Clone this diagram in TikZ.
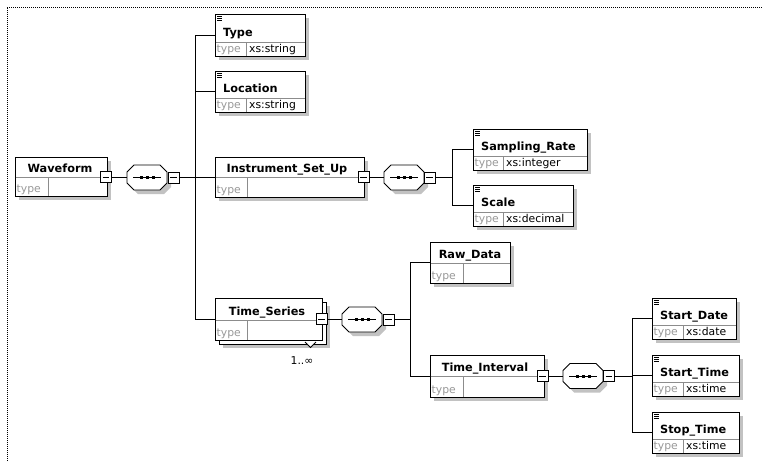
\documentclass[tikz,border=0pt]{standalone}
\usepackage{fontspec}
\newfontfamily\dvs{DejaVu Sans}
\tikzset{
  elbox/.style={draw=black, fill=white, line width=0.9pt, inner sep=0pt, rectangle},
  shadowc/.style={fill=black!24},
  ttl/.style={font=\dvs\bfseries\fontsize{11.3}{12}\selectfont, inner sep=0pt},
  typet/.style={font=\dvs\fontsize{10.8}{11}\selectfont, text=black!40, inner sep=0pt},
  valt/.style={font=\dvs\fontsize{10.8}{11}\selectfont, text=black, inner sep=0pt},
  divl/.style={draw=black!45, line width=0.9pt},
  conn/.style={draw=black, line width=0.9pt},
  pmsq/.style={draw=black, fill=white, line width=0.9pt, minimum size=11pt, inner sep=0pt, rectangle},
  dotborder/.style={draw=black, line width=1pt, dash pattern=on 1pt off 1pt},
}
\newcommand\shad[4]{\fill[shadowc] (#1+4,#2+4) rectangle (#3+4,#4+4);}
\newcommand\mkbox[7]{%
  \node[elbox, minimum width={(#4-#2)*1pt}, minimum height={(#5-#3)*1pt}] (#1) at ({(#2+#4)/2},{(#3+#5)/2}) {};
  \draw[divl] (#2+0.5,#6) -- (#4-0.5,#6);
  \draw[divl] (#7,#6) -- (#7,#5-0.5);
  \node[typet, anchor=base west] at (#2+1.5,#5-4) {type};
}
\newcommand\stitle[4]{%
  \draw[line width=0.5pt] (#1+2,#2+2) -- +(5,0) (#1+2,#2+4) -- +(5,0) (#1+2,#2+6) -- +(5,0);
  \node[ttl, anchor=base west] at (#1+8,#3-6) {#4};
}
\newcommand\ctitle[3]{\node[ttl, anchor=base] at (#1,#2-5) {#3};}
\newcommand\xval[3]{\node[valt, anchor=base west] at (#1+3,#2-4) {#3};}
\newcommand\octo[3]{%
  \begin{scope}[shift={(#2+4,#3+4)}]
    \fill[shadowc] (-13,-12.5) -- (13,-12.5) -- (20,-5.5) -- (20,5.5) -- (13,12.5) -- (-13,12.5) -- (-20,5.5) -- (-20,-5.5) -- cycle;
  \end{scope}
  \node[inner sep=0pt, minimum width=40pt, minimum height=25pt] (#1) at (#2,#3) {};
  \begin{scope}[shift={(#2,#3)}]
    \filldraw[conn, fill=white] (-13,-12.5) -- (13,-12.5) -- (20,-5.5) -- (20,5.5) -- (13,12.5) -- (-13,12.5) -- (-20,5.5) -- (-20,-5.5) -- cycle;
    \draw[conn] (-14,0) -- (14,0);
    \fill (-7.5,-1.5) rectangle (-4.5,1.5);
    \fill (-1.5,-1.5) rectangle (1.5,1.5);
    \fill (4.5,-1.5) rectangle (7.5,1.5);
  \end{scope}
}
\newcommand\pmb[3]{%
  \node[pmsq] (#1) at (#2,#3) {};
  \draw[conn] ([xshift=2.5pt]#1.west) -- ([xshift=-2.5pt]#1.east);
}
\begin{document}
\begin{tikzpicture}[x=1pt,y=-1pt]
\useasboundingbox (0,0) rectangle (763,461);
\draw[dotborder] (7,461) -- (7,7) -- (763,7);

% junction columns
\coordinate (j1) at (195,0);
\coordinate (j2) at (452,0);
\coordinate (j3) at (410,0);
\coordinate (j4) at (632,0);

% Waveform
\shad{15}{157}{107}{196}
\mkbox{nWF}{15}{157}{107}{196}{177}{48}
\ctitle{60}{177}{Waveform}
\pmb{m1}{106}{177}
\octo{s1}{147}{177.5}
\pmb{p1}{173.5}{177.5}

% Type
\shad{215}{14}{305}{56}
\mkbox{nType}{215}{14}{305}{56}{42}{246}
\stitle{215}{14}{42}{Type}
\xval{246}{56}{xs:string}

% Location
\shad{215}{71}{305}{112}
\mkbox{nLoc}{215}{71}{305}{112}{98}{246}
\stitle{215}{71}{98}{Location}
\xval{246}{112}{xs:string}

% Instrument_Set_Up
\shad{215}{157}{364}{197}
\mkbox{nISU}{215}{157}{364}{197}{177}{247}
\ctitle{287}{177}{Instrument\_Set\_Up}
\pmb{m2}{363.5}{177}
\octo{s2}{404}{177.5}
\pmb{p2}{429.5}{177.5}

% Sampling_Rate
\shad{473}{129}{587}{170}
\mkbox{nSR}{473}{129}{587}{170}{156}{503}
\stitle{473}{129}{156}{Sampling\_Rate}
\xval{503}{170}{xs:integer}

% Scale
\shad{473}{185}{573}{226}
\mkbox{nSc}{473}{185}{573}{226}{212}{503}
\stitle{473}{185}{212}{Scale}
\xval{503}{226}{xs:decimal}

% Time_Series (stacked)
\shad{219}{302}{326}{344}
\node[elbox, minimum width=107pt, minimum height=42pt] (nTSb) at (272.5,323) {};
\mkbox{nTS}{215}{298}{322}{340}{320}{247}
\ctitle{267}{320}{Time\_Series}
\filldraw[conn, fill=white] (305,342) -- (310.5,347.5) -- (316,342);
\node[valt, anchor=base] (card) at (302,364) {1..∞};
\pmb{m3}{321.5}{319}
\octo{s3}{362}{319.5}
\pmb{p3}{388.5}{319.5}

% Raw_Data
\shad{430}{242}{510}{283}
\mkbox{nRD}{430}{242}{510}{283}{263}{463}
\ctitle{470}{263}{Raw\_Data}

% Time_Interval
\shad{430}{355}{544}{397}
\mkbox{nTI}{430}{355}{544}{397}{376}{463}
\ctitle{485}{376}{Time\_Interval}
\pmb{m4}{542.5}{376}
\octo{s4}{583}{376}
\pmb{p4}{609}{376}

% Start_Date
\shad{652}{298}{736}{339}
\mkbox{nSD}{652}{298}{736}{339}{325}{683}
\stitle{652}{298}{325}{Start\_Date}
\xval{683}{339}{xs:date}

% Start_Time
\shad{652}{355}{739}{396}
\mkbox{nST}{652}{355}{739}{396}{382}{683}
\stitle{652}{355}{382}{Start\_Time}
\xval{683}{396}{xs:time}

% Stop_Time
\shad{652}{412}{739}{453}
\mkbox{nSpT}{652}{412}{739}{453}{439}{683}
\stitle{652}{412}{439}{Stop\_Time}
\xval{683}{453}{xs:time}

% connectors
\draw[conn] (m1.east) -- (m1.east -| s1.west);
\draw[conn] (p1.east) -- (p1.east -| j1);
\draw[conn] (j1 |- nType.west) -- (j1 |- nTS.west);
\foreach \n in {nType,nLoc,nISU,nTS} \draw[conn] (j1 |- \n.west) -- (\n.west);

\draw[conn] (m2.east) -- (m2.east -| s2.west);
\draw[conn] (p2.east) -- (p2.east -| j2);
\draw[conn] (j2 |- nSR.west) -- (j2 |- nSc.west);
\foreach \n in {nSR,nSc} \draw[conn] (j2 |- \n.west) -- (\n.west);

\draw[conn] (m3.east) -- (m3.east -| s3.west);
\draw[conn] (p3.east) -- (p3.east -| j3);
\draw[conn] (j3 |- nRD.west) -- (j3 |- nTI.west);
\foreach \n in {nRD,nTI} \draw[conn] (j3 |- \n.west) -- (\n.west);

\draw[conn] (m4.east) -- (m4.east -| s4.west);
\draw[conn] (p4.east) -- (p4.east -| j4);
\draw[conn] (j4 |- nSD.west) -- (j4 |- nSpT.west);
\foreach \n in {nSD,nST,nSpT} \draw[conn] (j4 |- \n.west) -- (\n.west);
\end{tikzpicture}
\end{document}
